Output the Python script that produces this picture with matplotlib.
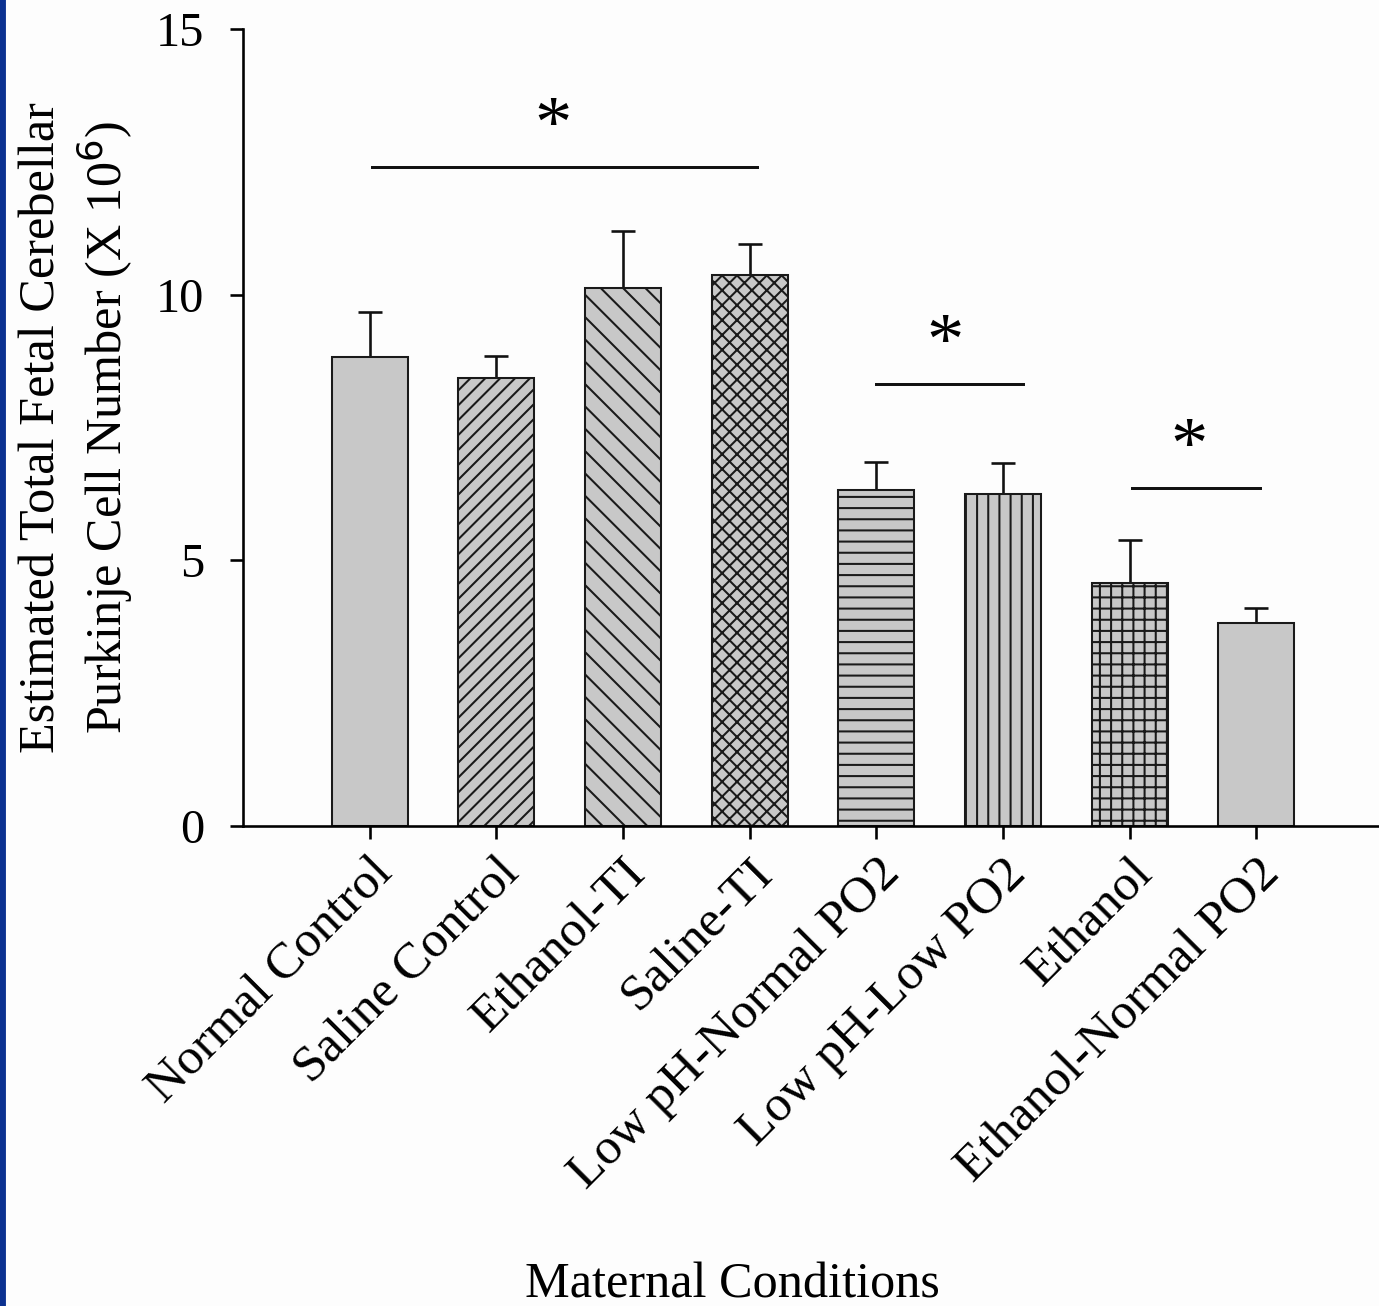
import numpy as np
import matplotlib
matplotlib.use("Agg")
import matplotlib.pyplot as plt
from matplotlib.patches import Rectangle
import matplotlib.transforms as mtransforms

# ── Data ──────────────────────────────────────────────────
conditions = ["Normal Control", "Saline Control", "Ethanol-TI", "Saline-TI",
              "Low pH-Normal PO2", "Low pH-Low PO2", "Ethanol",
              "Ethanol-Normal PO2"]
means  = [8.83, 8.43, 10.13, 10.37, 6.32, 6.25, 4.57, 3.82]
errors = [0.84, 0.42, 1.07, 0.58, 0.53, 0.58, 0.81, 0.28]
hatches = ["", "///", "\\\\", "xxx", "--", "||", "++", ""]

# significance brackets: (start, end, height)
sig_start  = [0.02, 4.0, 6.02]
sig_end    = [3.06, 5.16, 7.03]
sig_height = [12.4, 8.32, 6.36]
star_x     = [1.45, 4.54, 6.47]

DPI = 134
plt.rcParams["font.family"] = ["Liberation Serif", "DejaVu Serif"]
plt.rcParams["hatch.linewidth"] = 1.1
plt.rcParams["hatch.color"] = "#1a1a1a"

fig = plt.figure(figsize=(1379 / DPI, 1306 / DPI), dpi=DPI, facecolor="#fdfdfd")
ax = fig.add_axes([243 / 1379, 480 / 1306, 1136 / 1379, 797 / 1306])
ax.set_facecolor("#fdfdfd")

# blue strip on the left edge
fig.patches.append(Rectangle((0, 0), 5 / 1379, 1, transform=fig.transFigure,
                             color="#0b3190", zorder=10))

x = np.arange(len(conditions))
ax.bar(x, means, width=0.6, color="#c8c8c8", edgecolor="#1a1a1a",
       linewidth=1.1, hatch=hatches, zorder=2)
ax.errorbar(x, means, yerr=[np.zeros(len(errors)), errors], fmt="none",
            ecolor="#111111", elinewidth=1.4, capsize=6.5, capthick=1.4, zorder=1)

for x0, x1, h, sx in zip(sig_start, sig_end, sig_height, star_x):
    ax.plot([x0, x1], [h, h], color="#111111", lw=1.6, clip_on=False)
    ax.text(sx, h + 0.37, "*", ha="center", va="baseline", fontsize=40)

ax.set_xlim(-1, 7.97)
ax.set_ylim(0, 15)
ax.set_yticks([0, 5, 10, 15])
ax.set_xticks(x)
ax.set_xticklabels(conditions, rotation=45, ha="right", va="top",
                   rotation_mode="anchor", fontsize=27.5)
offset = mtransforms.ScaledTranslation(20 / DPI, -30 / DPI, fig.dpi_scale_trans)
for lbl in ax.get_xticklabels():
    lbl.set_transform(lbl.get_transform() + offset)
ax.tick_params(axis="y", labelsize=26, length=7, width=1.4, pad=14)
ax.tick_params(axis="x", length=7, width=1.4, pad=6)

for side in ["top", "right"]:
    ax.spines[side].set_visible(False)
for side in ["left", "bottom"]:
    ax.spines[side].set_linewidth(1.4)

ax.set_ylabel("Estimated Total Fetal Cerebellar\nPurkinje Cell Number (X 10$^6$)",
              fontsize=27)
ax.yaxis.set_label_coords(-0.095, 0.5)
ax.set_xlabel("Maternal Conditions", fontsize=27, va="top")
ax.xaxis.set_label_coords(0.431, -0.547)

fig.savefig("out.png", dpi=DPI, facecolor=fig.get_facecolor())
